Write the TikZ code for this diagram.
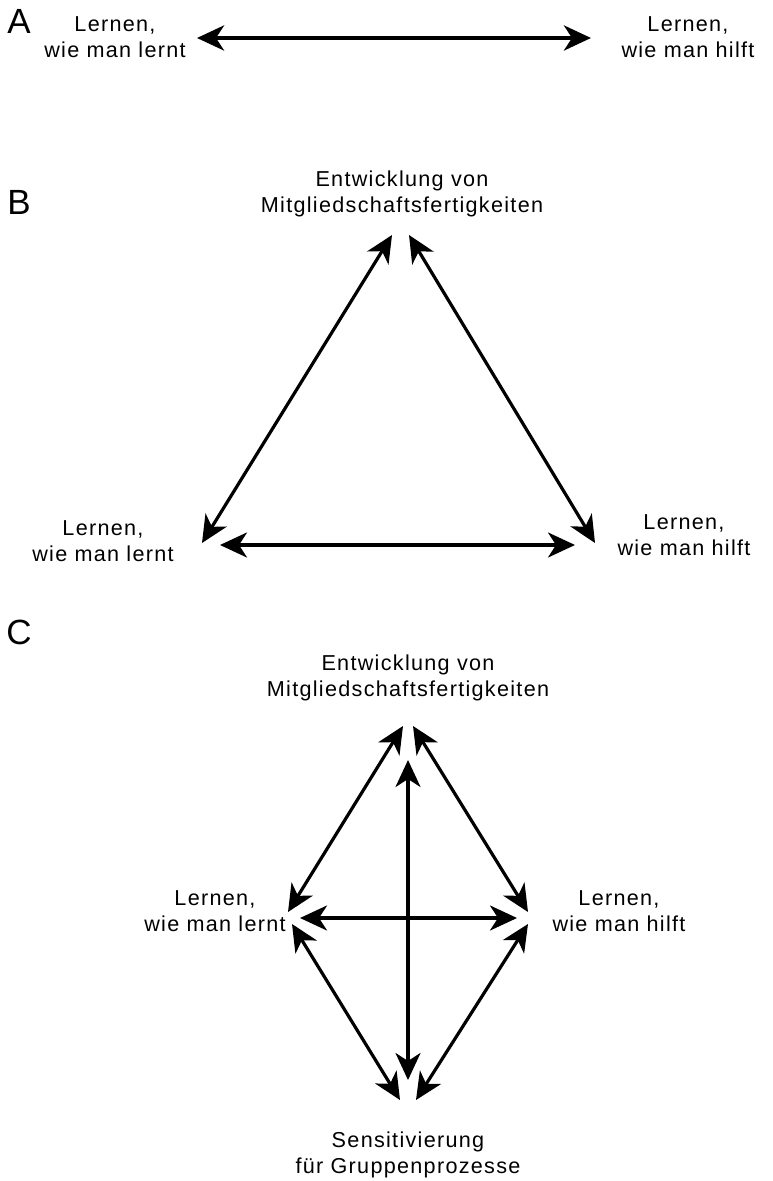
\documentclass[tikz,border=0pt]{standalone}
\usepackage{fontspec}
\setmainfont{Liberation Sans}[LetterSpace=6]
\usetikzlibrary{arrows.meta}
\begin{document}
\begin{tikzpicture}[x=0.5pt, y=-0.5pt,
    lbl/.style={font=\fontsize{10.8}{13}\selectfont, align=center, inner sep=0pt},
    panel/.style={font=\fontsize{17.5}{19}\selectfont, inner sep=0pt},
    arr/.style={{Stealth[length=13.5pt,width=12.5pt,inset=4pt]}-{Stealth[length=13.5pt,width=12.5pt,inset=4pt]},
                line width=1.6pt}
  ]
  \useasboundingbox (0,0) rectangle (772,1181);

  % Panel A
  \node[panel] (pa) at (19, 21) {A};
  \node[lbl] (alearn) at (115, 37) {Lernen,\\wie man lernt};
  \node[lbl] (ahelp) at (688, 37) {Lernen,\\wie man hilft};
  \coordinate (a1) at (197, 38);
  \coordinate (a2) at (591, 38);
  \draw[arr, line width=2.1pt] (a1) -- (a2);

  % Panel B
  \node[panel] (pb) at (19, 202) {B};
  \node[lbl] (bmember) at (402, 194) {Entwicklung von\\Mitgliedschaftsfertigkeiten};
  \node[lbl] (blearn) at (103, 541) {Lernen,\\wie man lernt};
  \node[lbl] (bhelp) at (684, 535) {Lernen,\\wie man hilft};
  \coordinate (btl) at (392, 235);
  \coordinate (btr) at (409, 235);
  \coordinate (bld) at (202, 543);
  \coordinate (blh) at (220, 545);
  \coordinate (brh) at (575, 545);
  \coordinate (brd) at (595, 543);
  \draw[arr] (btl) -- (bld);
  \draw[arr] (btr) -- (brd);
  \draw[arr] (blh) -- (brh);

  % Panel C
  \node[panel] (pc) at (19, 632) {C};
  \node[lbl] (cmember) at (408, 678) {Entwicklung von\\Mitgliedschaftsfertigkeiten};
  \node[lbl] (clearn) at (215, 911) {Lernen,\\wie man lernt};
  \node[lbl] (chelp) at (619, 911) {Lernen,\\wie man hilft};
  \node[lbl] (csens) at (408, 1155) {Sensitivierung\\für Gruppenprozesse};
  \coordinate (ctl) at (403, 726);
  \coordinate (ctr) at (413, 726);
  \coordinate (ctv) at (408, 760);
  \coordinate (clu) at (288, 912);
  \coordinate (clh) at (300, 918);
  \coordinate (cll) at (292, 924);
  \coordinate (cru) at (528, 912);
  \coordinate (crh) at (517, 918);
  \coordinate (crl) at (528, 924);
  \coordinate (cbv) at (408, 1080);
  \coordinate (cbl) at (400, 1100);
  \coordinate (cbr) at (416, 1100);
  \draw[arr] (ctl) -- (clu);
  \draw[arr] (ctr) -- (cru);
  \draw[arr] (clh) -- (crh);
  \draw[arr] (ctv) -- (cbv);
  \draw[arr] (cll) -- (cbl);
  \draw[arr] (crl) -- (cbr);
\end{tikzpicture}
\end{document}
